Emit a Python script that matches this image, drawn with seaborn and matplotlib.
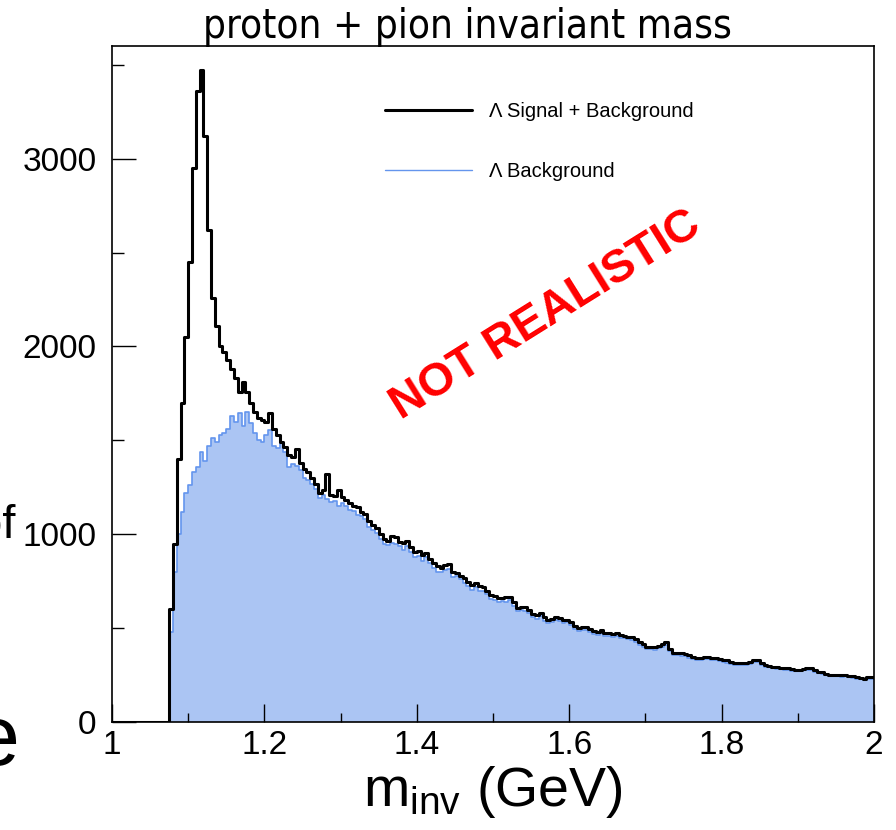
import numpy as np
import pandas as pd
import matplotlib
matplotlib.use("Agg")
import matplotlib.pyplot as plt
from matplotlib.lines import Line2D
from matplotlib.ticker import MultipleLocator
import seaborn as sns

# ---------------- data ----------------
# 200 bins of 0.005 GeV between 1.0 and 2.0 GeV
bin_edges = np.linspace(1.0, 2.0, 201)

signal_plus_background = [0] * 15 + [
    600, 950, 1400, 1700, 2050, 2450, 2950, 3360, 3470, 3120,
    2620, 2260, 2110, 2000, 1970, 1930, 1880, 1830, 1760, 1810,
    1760, 1700, 1650, 1620, 1610, 1600, 1645, 1560, 1530, 1490,
    1465, 1420, 1410, 1455, 1380, 1345, 1330, 1300, 1265, 1220,
    1235, 1320, 1210, 1205, 1235, 1200, 1180, 1165, 1150, 1145,
    1120, 1110, 1070, 1050, 1035, 1000, 975, 965, 990, 985,
    960, 955, 962, 930, 905, 908, 890, 900, 870, 846,
    830, 820, 835, 840, 800, 795, 780, 765, 745, 730,
    740, 725, 720, 700, 676, 670, 660, 662, 668, 665,
    640, 606, 610, 612, 595, 575, 569, 580, 560, 543,
    550, 559, 555, 545, 543, 535, 510, 500, 505, 505,
    495, 485, 480, 489, 475, 473, 470, 473, 465, 460,
    455, 452, 440, 426, 415, 400, 402, 399, 405, 415,
    426, 390, 367, 370, 365, 362, 355, 345, 340, 343,
    346, 344, 342, 340, 335, 330, 328, 320, 314, 316,
    314, 312, 320, 328, 330, 315, 303, 300, 295, 293,
    290, 287, 287, 282, 278, 277, 283, 287, 285, 275,
    268, 266, 255, 250, 252, 250, 248, 250, 245, 243,
    238, 234, 230, 238, 240]

background = [0] * 15 + [
    480, 800, 1000, 1120, 1220, 1260, 1330, 1360, 1440, 1390,
    1470, 1510, 1490, 1530, 1540, 1560, 1630, 1600, 1645, 1575,
    1650, 1590, 1540, 1500, 1490, 1530, 1555, 1470, 1460, 1485,
    1440, 1360, 1375, 1365, 1340, 1300, 1290, 1270, 1240, 1195,
    1210, 1190, 1170, 1175, 1150, 1165, 1150, 1130, 1125, 1105,
    1095, 1080, 1040, 1020, 1005, 975, 950, 940, 955, 950,
    935, 915, 935, 905, 880, 885, 860, 880, 845, 820,
    800, 800, 810, 815, 770, 775, 760, 740, 725, 705,
    720, 700, 700, 680, 655, 650, 640, 645, 640, 648,
    620, 590, 595, 590, 578, 560, 550, 565, 540, 528,
    535, 542, 538, 525, 530, 518, 495, 484, 490, 488,
    480, 468, 465, 472, 460, 458, 452, 460, 450, 446,
    440, 438, 425, 410, 402, 388, 390, 385, 392, 400,
    410, 378, 355, 358, 352, 350, 342, 334, 328, 332,
    335, 333, 330, 329, 324, 320, 316, 310, 303, 306,
    304, 302, 310, 318, 318, 305, 294, 291, 286, 284,
    281, 279, 278, 274, 270, 269, 275, 278, 277, 267,
    260, 258, 248, 243, 245, 243, 241, 243, 238, 236,
    231, 228, 224, 231, 228]

legend_labels = ["\u039b Signal + Background", "\u039b Background"]
title_text = "proton + pion invariant mass"
x_label = r"m$_{\rm inv}$ (GeV)"
stamp_text = "NOT REALISTIC"
x_ticks = [1.0, 1.2, 1.4, 1.6, 1.8, 2.0]
x_tick_labels = ["1", "1.2", "1.4", "1.6", "1.8", "2"]
y_ticks = [0, 1000, 2000, 3000]
y_tick_labels = ["0", "1000", "2000", "3000"]

# ---------------- style ----------------
sns.set_theme(style="white")
plt.rcParams["font.family"] = ["Liberation Sans", "DejaVu Sans"]
plt.rcParams["mathtext.fontset"] = "custom"
plt.rcParams["mathtext.rm"] = "Liberation Sans"
plt.rcParams["mathtext.it"] = "Liberation Sans:italic"
for key in ["text.color", "axes.labelcolor", "xtick.color", "ytick.color",
            "xtick.labelcolor", "ytick.labelcolor"]:
    plt.rcParams[key] = "black"

centers = 0.5 * (bin_edges[:-1] + bin_edges[1:])
df = pd.DataFrame({"mass": centers,
                   "sb": np.asarray(signal_plus_background, dtype=float),
                   "bkg": np.asarray(background, dtype=float)})
edges_list = [float(e) for e in bin_edges]

fig = plt.figure(figsize=(8.96, 8.30), dpi=100)
ax = fig.add_axes([112 / 896, 1 - 722 / 830, (874 - 112) / 896, (722 - 46) / 830])

fill_color = "#abc5f3"
line_blue = "#6495ed"

sns.histplot(data=df, x="mass", weights="bkg", bins=edges_list, element="step",
             fill=True, color=fill_color, alpha=1.0, linewidth=0, ax=ax)
sns.histplot(data=df, x="mass", weights="bkg", bins=edges_list, element="step",
             fill=False, color=line_blue, linewidth=1.2, ax=ax)
sns.histplot(data=df, x="mass", weights="sb", bins=edges_list, element="step",
             fill=False, color="black", linewidth=2.2, ax=ax)

ax.set_xlim(1.0, 2.0)
ax.set_ylim(0, 3600)
ax.set_ylabel("")
ax.set_xlabel(x_label, fontsize=40, labelpad=2, color="black")

ax.set_xticks(x_ticks)
ax.set_xticklabels(x_tick_labels)
ax.set_yticks(y_ticks)
ax.set_yticklabels(y_tick_labels)
ax.xaxis.set_minor_locator(MultipleLocator(0.1))
ax.yaxis.set_minor_locator(MultipleLocator(500))
ax.tick_params(axis="x", which="major", direction="in", length=13, width=1.0,
               labelsize=24, pad=6, color="black", labelcolor="black",
               top=False, bottom=True)
ax.tick_params(axis="x", which="minor", direction="in", length=6.5, width=1.0,
               color="black", top=False, bottom=True)
ax.tick_params(axis="y", which="major", direction="in", length=17, width=1.0,
               labelsize=24, pad=11, color="black", labelcolor="black",
               right=False, left=True)
ax.tick_params(axis="y", which="minor", direction="in", length=8.5, width=1.0,
               color="black", right=False, left=True)
for sp in ax.spines.values():
    sp.set_visible(True)
    sp.set_color("black")
    sp.set_linewidth(1.2)
ax.set_axisbelow(False)

# legend
handles = [Line2D([], [], color="black", linewidth=2.2),
           Line2D([], [], color=line_blue, linewidth=1.0)]
leg = ax.legend(handles, legend_labels, loc="upper left", frameon=False,
                bbox_to_anchor=(385 / 896, 1 - 102 / 830), bbox_transform=fig.transFigure,
                fontsize=14.5, handlelength=4.3, handletextpad=0.85, labelspacing=2.05,
                borderpad=0, borderaxespad=0)
for t in leg.get_texts():
    t.set_color("black")

# stamp
fig.text(546 / 896, 1 - 315 / 830, stamp_text, color="red", fontsize=33.5,
         fontweight="bold", rotation=32, ha="center", va="center",
         rotation_mode="anchor")

# title and cut-off slide text
fig.text(467 / 896, 1 - 27 / 830, title_text, ha="center", va="center",
         fontsize=29, family=["Liberation Sans Narrow", "DejaVu Sans"],
         fontstretch="condensed", color="black")
fig.text(15 / 896, 1 - 538 / 830, "of", ha="right", va="baseline", fontsize=34,
         color="black")
fig.text(19 / 896, 1 - 765 / 830, "e", ha="right", va="baseline", fontsize=62,
         color="black")

fig.savefig("out.png", dpi=100)
